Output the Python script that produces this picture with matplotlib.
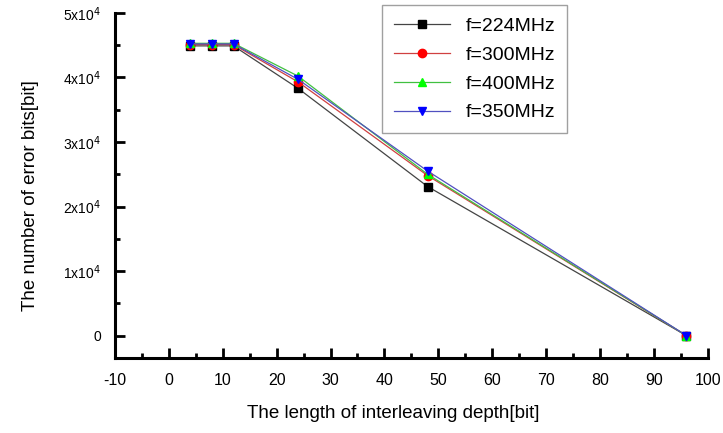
import numpy as np
import matplotlib.pyplot as plt
from matplotlib.ticker import MultipleLocator, FuncFormatter

plt.rcParams['font.family'] = ['Liberation Sans', 'DejaVu Sans']
plt.rcParams['axes.unicode_minus'] = False

# interleaving depth [bit]
depth = [4, 8, 12, 24, 48, 96]

# number of error bits for each frequency
err_224 = [44900, 44900, 44900, 38300, 23100, 0]
err_300 = [45100, 45100, 45100, 39300, 24800, 0]
err_400 = [45300, 45300, 45300, 40200, 25000, 0]
err_350 = [45200, 45200, 45200, 39700, 25500, 0]

labels = ['f=224MHz', 'f=300MHz', 'f=400MHz', 'f=350MHz']

fig = plt.figure(figsize=(7.23, 4.33), dpi=100)
ax = fig.add_axes([0.159, 0.173, 0.820, 0.797])

ax.plot(depth, err_224, color='#444444', lw=0.9, marker='s', ms=6, mfc='black', mec='black', label=labels[0])
ax.plot(depth, err_300, color='#d04040', lw=0.9, marker='o', ms=6, mfc='red', mec='red', label=labels[1])
ax.plot(depth, err_400, color='#40c040', lw=0.9, marker='^', ms=6, mfc='#00ff00', mec='#00ff00', label=labels[2])
ax.plot(depth, err_350, color='#5050c0', lw=0.9, marker='v', ms=6, mfc='blue', mec='blue', label=labels[3])

ax.set_xlim(-10, 100)
ax.set_ylim(-3500, 50000)

ax.xaxis.set_major_locator(MultipleLocator(10))
ax.xaxis.set_minor_locator(MultipleLocator(5))
ax.yaxis.set_major_locator(MultipleLocator(10000))
ax.yaxis.set_minor_locator(MultipleLocator(5000))

def yfmt(v, pos):
    n = int(round(v / 10000))
    return '0' if n == 0 else r'%dx10$^{4}$' % n

ax.yaxis.set_major_formatter(FuncFormatter(yfmt))

for s in ['top', 'right']:
    ax.spines[s].set_visible(False)
for s in ['left', 'bottom']:
    ax.spines[s].set_linewidth(2.2)

ax.tick_params(which='major', direction='in', length=7, width=2, labelsize=11.5, pad=11)
ax.tick_params(which='minor', direction='in', length=3.5, width=2)
ax.tick_params(axis='y', labelsize=10, pad=10)

ax.set_xlabel('The length of interleaving depth[bit]', fontsize=13.5)
ax.xaxis.set_label_coords(0.47, -0.135)
ax.set_ylabel('The number of error bits[bit]', fontsize=13.5)
ax.yaxis.set_label_coords(-0.128, 0.47)

leg = ax.legend(loc='upper left', bbox_to_anchor=(0.434, 1.05), fontsize=14, numpoints=1,
                fancybox=False, edgecolor='#888888', handlelength=2.9, labelspacing=0.58,
                borderpad=0.6)
leg.get_frame().set_linewidth(1.0)

fig.savefig('out.png', dpi=100)
